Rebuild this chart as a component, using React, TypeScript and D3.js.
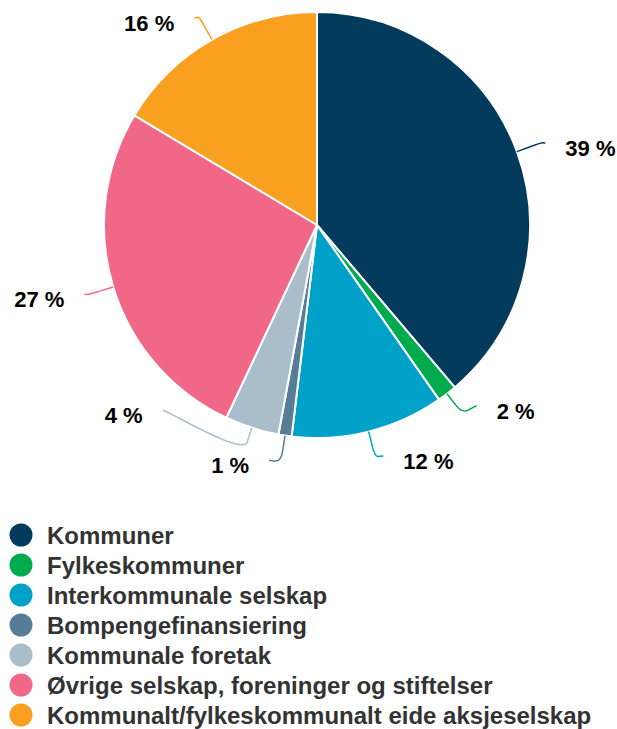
import React, { useEffect, useRef } from 'react';
import * as d3 from 'd3';

// Categories in drawing order (clockwise from 12 o'clock)
const categories = [
  'Kommuner',
  'Fylkeskommuner',
  'Interkommunale selskap',
  'Bompengefinansiering',
  'Kommunale foretak',
  'Øvrige selskap, foreninger og stiftelser',
  'Kommunalt/fylkeskommunalt eide aksjeselskap',
];

// Share in percent
const shares = [38.8, 1.5, 11.6, 1.0, 4.1, 26.6, 16.4];

const colors = ['#023b5c', '#00ab4e', '#00a1c9', '#577d96', '#aabdca', '#f06787', '#f9a020'];

const App = () => {
  const ref = useRef<SVGSVGElement>(null);

  useEffect(() => {
    const width = 617;
    const height = 729;
    const cx = 317;
    const cy = 225;
    const r = 213;
    const rx = 243; // label ring, horizontal
    const ry = 238; // label ring, vertical
    const minGap = 50;

    const svg = d3.select(ref.current);
    svg.selectAll('*').remove();
    svg.attr('width', width).attr('height', height);

    const data = categories.map((name, i) => ({ name, value: shares[i], color: colors[i] }));

    const pie = d3.pie<any>().sort(null).value(d => d.value);
    const arcs = pie(data);
    const arc = d3.arc<any>().innerRadius(0).outerRadius(r);

    const g = svg.append('g').attr('transform', `translate(${cx},${cy})`);

    g.selectAll('path.slice')
      .data(arcs)
      .enter()
      .append('path')
      .attr('class', 'slice')
      .attr('d', arc)
      .attr('fill', d => d.data.color)
      .attr('stroke', '#fff')
      .attr('stroke-width', 2)
      .attr('stroke-linejoin', 'round');

    // label layout: natural position on the label ring, then push apart per side
    const polar = (a: number, rad: number) => [Math.sin(a) * rad, -Math.cos(a) * rad];
    const labels = arcs.map(d => {
      const mid = (d.startAngle + d.endAngle) / 2;
      return { d, mid, right: Math.sin(mid) >= 0, y: -Math.cos(mid) * ry, x: 0 };
    });

    [true, false].forEach(side => {
      const list = labels.filter(l => l.right === side).sort((a, b) => b.y - a.y);
      for (let i = 1; i < list.length; i++) {
        if (list[i - 1].y - list[i].y < minGap) list[i].y = list[i - 1].y - minGap;
      }
      list.forEach(l => {
        const dy = Math.max(-1, Math.min(1, l.y / (ry + 2)));
        l.x = (side ? 1 : -1) * Math.cos(Math.asin(dy)) * rx;
      });
    });

    labels.forEach(l => {
      const s = l.right ? 1 : -1;
      const [tx, ty] = polar(l.mid, r);
      const [bx, by] = polar(l.mid, r + 15);
      const [c2x, c2y] = [2 * bx - tx, 2 * by - ty];
      g.append('path')
        .attr('d', `M${l.x},${l.y}C${l.x - s * 5},${l.y} ${c2x},${c2y} ${bx},${by}L${tx},${ty}`)
        .attr('fill', 'none')
        .attr('stroke', l.d.data.color)
        .attr('stroke-width', 1.5);

      g.append('text')
        .attr('x', l.x + s * 20)
        .attr('y', l.y + 13)
        .attr('text-anchor', l.right ? 'start' : 'end')
        .style('font-family', '"Liberation Sans", Arial, sans-serif')
        .style('font-weight', 'bold')
        .style('font-size', '22px')
        .style('fill', '#000')
        .text(`${Math.round(l.d.data.value)} %`);
    });

    // Legend
    const legend = svg.append('g').attr('transform', 'translate(0,535)');
    const rows = legend.selectAll('g')
      .data(data)
      .enter()
      .append('g')
      .attr('transform', (d, i) => `translate(0,${i * 30})`);

    rows.append('circle')
      .attr('cx', 21)
      .attr('cy', 0)
      .attr('r', 11.5)
      .attr('fill', d => d.color);

    rows.append('text')
      .attr('x', 47)
      .attr('y', 9)
      .style('font-family', '"Liberation Sans", Arial, sans-serif')
      .style('font-weight', 'bold')
      .style('font-size', '24px')
      .style('fill', '#333')
      .text(d => d.name);
  }, []);

  return (
    <div style={{ position: 'absolute', left: 0, top: 0, width: 617, height: 729, background: '#fff' }}>
      <svg ref={ref} />
    </div>
  );
};

export default App;
